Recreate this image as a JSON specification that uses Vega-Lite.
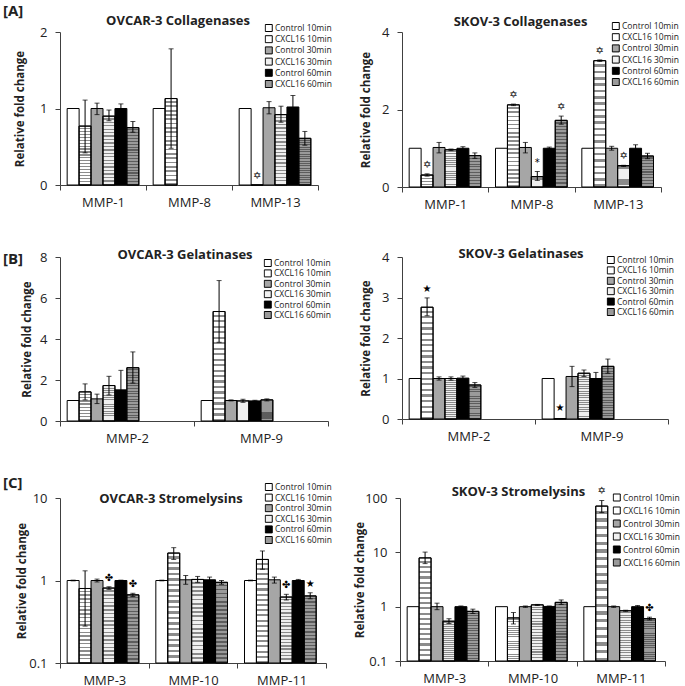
{
"$schema":"https://vega.github.io/schema/vega-lite/v6.json",
"padding":{"left":3,"top":4,"right":0,"bottom":0},
"background":"white",
"datasets":{
"A1":[
{"g":"MMP-1","s":"Control 10min","v":1},
{"g":"MMP-1","s":"CXCL16 10min","v":0.77,"lo":0.42,"hi":1.11},
{"g":"MMP-1","s":"Control 30min","v":1.0,"lo":0.92,"hi":1.07},
{"g":"MMP-1","s":"CXCL16 30min","v":0.9,"lo":0.84,"hi":0.98},
{"g":"MMP-1","s":"Control 60min","v":1.0,"lo":0.95,"hi":1.06},
{"g":"MMP-1","s":"CXCL16 60min","v":0.75,"lo":0.69,"hi":0.83},
{"g":"MMP-8","s":"Control 10min","v":1},
{"g":"MMP-8","s":"CXCL16 10min","v":1.13,"lo":0.48,"hi":1.78},
{"g":"MMP-13","s":"Control 10min","v":1},
{"g":"MMP-13","s":"CXCL16 10min","v":0,"sym":"✡","at":0},
{"g":"MMP-13","s":"Control 30min","v":1.01,"lo":0.93,"hi":1.09},
{"g":"MMP-13","s":"CXCL16 30min","v":0.92,"lo":0.82,"hi":1.03},
{"g":"MMP-13","s":"Control 60min","v":1.02,"lo":0.88,"hi":1.17},
{"g":"MMP-13","s":"CXCL16 60min","v":0.61,"lo":0.52,"hi":0.7}
],
"A2":[
{"g":"MMP-1","s":"Control 10min","v":1},
{"g":"MMP-1","s":"CXCL16 10min","v":0.31,"lo":0.28,"hi":0.34,"sym":"✡","at":0.34},
{"g":"MMP-1","s":"Control 30min","v":1.02,"lo":0.88,"hi":1.15},
{"g":"MMP-1","s":"CXCL16 30min","v":0.96,"lo":0.94,"hi":0.98},
{"g":"MMP-1","s":"Control 60min","v":1.0,"lo":0.97,"hi":1.04},
{"g":"MMP-1","s":"CXCL16 60min","v":0.81,"lo":0.74,"hi":0.88},
{"g":"MMP-8","s":"Control 10min","v":1},
{"g":"MMP-8","s":"CXCL16 10min","v":2.12,"lo":2.1,"hi":2.14,"sym":"✡","at":2.14},
{"g":"MMP-8","s":"Control 30min","v":1.02,"lo":0.88,"hi":1.15},
{"g":"MMP-8","s":"CXCL16 30min","v":0.27,"lo":0.17,"hi":0.4,"sym":"*","at":0.4},
{"g":"MMP-8","s":"Control 60min","v":1.0,"lo":0.98,"hi":1.03},
{"g":"MMP-8","s":"CXCL16 60min","v":1.72,"lo":1.62,"hi":1.83,"sym":"✡","at":1.83},
{"g":"MMP-13","s":"Control 10min","v":1},
{"g":"MMP-13","s":"CXCL16 10min","v":3.26,"lo":3.24,"hi":3.28,"sym":"✡","at":3.28},
{"g":"MMP-13","s":"Control 30min","v":1.0,"lo":0.95,"hi":1.05},
{"g":"MMP-13","s":"CXCL16 30min","v":0.55,"lo":0.53,"hi":0.56,"sym":"✡","at":0.56},
{"g":"MMP-13","s":"Control 60min","v":1.0,"lo":0.92,"hi":1.09},
{"g":"MMP-13","s":"CXCL16 60min","v":0.8,"lo":0.73,"hi":0.87}
],
"B1":[
{"g":"MMP-2","s":"Control 10min","v":1},
{"g":"MMP-2","s":"CXCL16 10min","v":1.42,"lo":1.03,"hi":1.81},
{"g":"MMP-2","s":"Control 30min","v":1.08,"lo":0.85,"hi":1.31},
{"g":"MMP-2","s":"CXCL16 30min","v":1.73,"lo":1.27,"hi":2.18},
{"g":"MMP-2","s":"Control 60min","v":1.52,"lo":0.57,"hi":2.47},
{"g":"MMP-2","s":"CXCL16 60min","v":2.6,"lo":1.85,"hi":3.37},
{"g":"MMP-9","s":"Control 10min","v":1},
{"g":"MMP-9","s":"CXCL16 10min","v":5.34,"lo":3.84,"hi":6.85},
{"g":"MMP-9","s":"Control 30min","v":1.0,"lo":0.98,"hi":1.03},
{"g":"MMP-9","s":"CXCL16 30min","v":0.98,"lo":0.91,"hi":1.06},
{"g":"MMP-9","s":"Control 60min","v":0.98,"lo":0.96,"hi":1.01},
{"g":"MMP-9","s":"CXCL16 60min","v":1.03,"lo":0.98,"hi":1.08}
],
"B2":[
{"g":"MMP-2","s":"Control 10min","v":1},
{"g":"MMP-2","s":"CXCL16 10min","v":2.76,"lo":2.55,"hi":2.99,"sym":"★","at":2.99},
{"g":"MMP-2","s":"Control 30min","v":1.0,"lo":0.96,"hi":1.04},
{"g":"MMP-2","s":"CXCL16 30min","v":1.0,"lo":0.96,"hi":1.04},
{"g":"MMP-2","s":"Control 60min","v":1.01,"lo":0.95,"hi":1.06},
{"g":"MMP-2","s":"CXCL16 60min","v":0.84,"lo":0.78,"hi":0.9},
{"g":"MMP-9","s":"Control 10min","v":1},
{"g":"MMP-9","s":"CXCL16 10min","v":0.01,"sym":"★","at":0.05},
{"g":"MMP-9","s":"Control 30min","v":1.05,"lo":0.8,"hi":1.3},
{"g":"MMP-9","s":"CXCL16 30min","v":1.13,"lo":1.05,"hi":1.21},
{"g":"MMP-9","s":"Control 60min","v":1.0,"lo":0.84,"hi":1.15},
{"g":"MMP-9","s":"CXCL16 60min","v":1.3,"lo":1.13,"hi":1.48}
],
"C1":[
{"g":"MMP-3","s":"Control 10min","v":1,"lo":0.99,"hi":1.01},
{"g":"MMP-3","s":"CXCL16 10min","v":0.8,"lo":0.28,"hi":1.31},
{"g":"MMP-3","s":"Control 30min","v":1.0,"lo":0.96,"hi":1.04},
{"g":"MMP-3","s":"CXCL16 30min","v":0.81,"lo":0.78,"hi":0.84,"sym":"✤","at":0.84},
{"g":"MMP-3","s":"Control 60min","v":1.0,"lo":0.99,"hi":1.01},
{"g":"MMP-3","s":"CXCL16 60min","v":0.67,"lo":0.64,"hi":0.7,"sym":"✤","at":0.7},
{"g":"MMP-10","s":"Control 10min","v":1,"lo":0.99,"hi":1.01},
{"g":"MMP-10","s":"CXCL16 10min","v":2.15,"lo":1.8,"hi":2.5},
{"g":"MMP-10","s":"Control 30min","v":1.02,"lo":0.9,"hi":1.15},
{"g":"MMP-10","s":"CXCL16 30min","v":1.03,"lo":0.95,"hi":1.12},
{"g":"MMP-10","s":"Control 60min","v":1.02,"lo":0.95,"hi":1.1},
{"g":"MMP-10","s":"CXCL16 60min","v":0.95,"lo":0.9,"hi":1.0},
{"g":"MMP-11","s":"Control 10min","v":1,"lo":0.99,"hi":1.01},
{"g":"MMP-11","s":"CXCL16 10min","v":1.8,"lo":1.37,"hi":2.28},
{"g":"MMP-11","s":"Control 30min","v":1.02,"lo":0.93,"hi":1.1},
{"g":"MMP-11","s":"CXCL16 30min","v":0.63,"lo":0.58,"hi":0.68,"sym":"✤","at":0.68},
{"g":"MMP-11","s":"Control 60min","v":1.0,"lo":0.97,"hi":1.03},
{"g":"MMP-11","s":"CXCL16 60min","v":0.65,"lo":0.6,"hi":0.71,"sym":"★","at":0.71}
],
"C2":[
{"g":"MMP-3","s":"Control 10min","v":1},
{"g":"MMP-3","s":"CXCL16 10min","v":7.9,"lo":6.2,"hi":10.1},
{"g":"MMP-3","s":"Control 30min","v":1.0,"lo":0.88,"hi":1.16},
{"g":"MMP-3","s":"CXCL16 30min","v":0.54,"lo":0.49,"hi":0.6},
{"g":"MMP-3","s":"Control 60min","v":1.0,"lo":0.97,"hi":1.03},
{"g":"MMP-3","s":"CXCL16 60min","v":0.82,"lo":0.75,"hi":0.9},
{"g":"MMP-10","s":"Control 10min","v":1},
{"g":"MMP-10","s":"CXCL16 10min","v":0.62,"lo":0.48,"hi":0.78},
{"g":"MMP-10","s":"Control 30min","v":1.0,"lo":0.97,"hi":1.03},
{"g":"MMP-10","s":"CXCL16 30min","v":1.08,"lo":1.05,"hi":1.1},
{"g":"MMP-10","s":"Control 60min","v":1.01,"lo":0.99,"hi":1.03},
{"g":"MMP-10","s":"CXCL16 60min","v":1.2,"lo":1.1,"hi":1.33},
{"g":"MMP-11","s":"Control 10min","v":1},
{"g":"MMP-11","s":"CXCL16 10min","v":71,"lo":54,"hi":90,"sym":"✡","at":90},
{"g":"MMP-11","s":"Control 30min","v":1.0,"lo":0.97,"hi":1.03},
{"g":"MMP-11","s":"CXCL16 30min","v":0.84,"lo":0.82,"hi":0.86},
{"g":"MMP-11","s":"Control 60min","v":1.0,"lo":0.96,"hi":1.05},
{"g":"MMP-11","s":"CXCL16 60min","v":0.6,"lo":0.57,"hi":0.64,"sym":"✤","at":0.64}
]
},
"spacing":37,
"vconcat":[
{
"title":{"text":"[A]","anchor":"start","frame":"group","dx":-57,"fontSize":15,"offset":-4.5},
"hconcat":[
{"width":258,"height":153,"data":{"name":"A1"},
"title":{"text":"OVCAR-3 Collagenases","dx":-11,"offset":-4},
"encoding":{
"x":{"field":"g","type":"nominal","scale":{"domain":["MMP-1","MMP-8","MMP-13"],"paddingInner":0,"paddingOuter":0},"axis":{"title":null}},
"xOffset":{"field":"s","type":"nominal","scale":{"domain":["Control 10min","CXCL16 10min","Control 30min","CXCL16 30min","Control 60min","CXCL16 60min"],"paddingInner":0,"paddingOuter":0.6}}},
"layer":[
{"mark":{"type":"bar","stroke":"black","strokeWidth":1},
"encoding":{"y":{"field":"v","type":"quantitative","scale":{"domain":[0,2],"nice":false},"axis":{"values":[0,1,2],"title":"Relative fold change","format":"~g","titleX":-35}},
"fill":{"field":"s","type":"nominal","scale":{"domain":["Control 10min","CXCL16 10min","Control 30min","CXCL16 30min","Control 60min","CXCL16 60min"],"range":["#ffffff","#ffffff","#a6a6a6","#f0f0f0","#000000","#9a9a9a"]},"legend":{"title":null,"orient":"none","legendX":204.5,"legendY":-8.5,"rowPadding":2.2}}}},
{"transform":[{"filter":{"field":"s","oneOf":["CXCL16 10min","CXCL16 30min","CXCL16 60min"]}}],
"mark":{"type":"bar","style":"stripes","stroke":"black","strokeWidth":1},
"encoding":{"y":{"field":"v","type":"quantitative"},"fillOpacity":{"field":"s","type":"nominal","scale":{"domain":["CXCL16 10min","CXCL16 30min","CXCL16 60min"],"range":[0.45,0.4,0.75]},"legend":null}}},
{"mark":{"type":"rule","color":"black","strokeWidth":1},"encoding":{"y":{"field":"lo","type":"quantitative"},"y2":{"field":"hi"}}},
{"mark":{"type":"tick","color":"black","size":5,"thickness":1},"encoding":{"y":{"field":"lo","type":"quantitative"}}},
{"mark":{"type":"tick","color":"black","size":5,"thickness":1},"encoding":{"y":{"field":"hi","type":"quantitative"}}},
{"mark":{"type":"text","font":"DejaVu Sans","fontSize":10,"dy":-9,"color":"black"},"encoding":{"y":{"field":"at","type":"quantitative"},"text":{"field":"sym"}}}
]},
{"width":259,"height":155,"data":{"name":"A2"},
"title":{"text":"SKOV-3 Collagenases","dx":-11,"offset":-7},
"encoding":{
"x":{"field":"g","type":"nominal","scale":{"domain":["MMP-1","MMP-8","MMP-13"],"paddingInner":0,"paddingOuter":0},"axis":{"title":null}},
"xOffset":{"field":"s","type":"nominal","scale":{"domain":["Control 10min","CXCL16 10min","Control 30min","CXCL16 30min","Control 60min","CXCL16 60min"],"paddingInner":0,"paddingOuter":0.72}}},
"layer":[
{"mark":{"type":"bar","stroke":"black","strokeWidth":1},
"encoding":{"y":{"field":"v","type":"quantitative","scale":{"domain":[0,4],"nice":false},"axis":{"values":[0,1,2,3,4],"title":"Relative fold change","format":"~g","titleX":-31}},
"fill":{"field":"s","type":"nominal","scale":{"domain":["Control 10min","CXCL16 10min","Control 30min","CXCL16 30min","Control 60min","CXCL16 60min"],"range":["#ffffff","#ffffff","#a6a6a6","#f0f0f0","#000000","#9a9a9a"]},"legend":{"title":null,"orient":"none","legendX":209.5,"legendY":-10.5,"rowPadding":2.2}}}},
{"transform":[{"filter":{"field":"s","oneOf":["CXCL16 10min","CXCL16 30min","CXCL16 60min"]}}],
"mark":{"type":"bar","style":"stripes","stroke":"black","strokeWidth":1},
"encoding":{"y":{"field":"v","type":"quantitative"},"fillOpacity":{"field":"s","type":"nominal","scale":{"domain":["CXCL16 10min","CXCL16 30min","CXCL16 60min"],"range":[0.45,0.4,0.75]},"legend":null}}},
{"mark":{"type":"rule","color":"black","strokeWidth":1},"encoding":{"y":{"field":"lo","type":"quantitative"},"y2":{"field":"hi"}}},
{"mark":{"type":"tick","color":"black","size":5,"thickness":1},"encoding":{"y":{"field":"lo","type":"quantitative"}}},
{"mark":{"type":"tick","color":"black","size":5,"thickness":1},"encoding":{"y":{"field":"hi","type":"quantitative"}}},
{"mark":{"type":"text","font":"DejaVu Sans","fontSize":10,"dy":-9,"color":"black"},"encoding":{"y":{"field":"at","type":"quantitative"},"text":{"field":"sym"}}}
]}
],
"spacing":84,"bounds":"flush",
"resolve":{"scale":{"fill":"independent","fillOpacity":"independent"},"legend":{"fill":"independent"}}
},
{
"spacing":31,
"vconcat":[
{
"title":{"text":"[B]","anchor":"start","frame":"group","dx":-57,"fontSize":15,"offset":-19},
"hconcat":[
{"width":268,"height":164,"data":{"name":"B1"},
"title":{"text":"OVCAR-3 Gelatinases","dx":-9,"offset":-11},
"encoding":{
"x":{"field":"g","type":"nominal","scale":{"domain":["MMP-2","MMP-9"],"paddingInner":0,"paddingOuter":0},"axis":{"title":null}},
"xOffset":{"field":"s","type":"nominal","scale":{"domain":["Control 10min","CXCL16 10min","Control 30min","CXCL16 30min","Control 60min","CXCL16 60min"],"paddingInner":0,"paddingOuter":0.8}}},
"layer":[
{"mark":{"type":"bar","stroke":"black","strokeWidth":1},
"encoding":{"y":{"field":"v","type":"quantitative","scale":{"domain":[0,8],"nice":false},"axis":{"values":[0,2,4,6,8],"title":"Relative fold change","format":"~g","titleX":-28}},
"fill":{"field":"s","type":"nominal","scale":{"domain":["Control 10min","CXCL16 10min","Control 30min","CXCL16 30min","Control 60min","CXCL16 60min"],"range":["#ffffff","#ffffff","#a6a6a6","#f0f0f0","#000000","#9a9a9a"]},"legend":{"title":null,"orient":"none","legendX":203.5,"legendY":1.5,"rowPadding":1.4}}}},
{"transform":[{"filter":{"field":"s","oneOf":["CXCL16 10min","CXCL16 30min","CXCL16 60min"]}}],
"mark":{"type":"bar","style":"stripes","stroke":"black","strokeWidth":1},
"encoding":{"y":{"field":"v","type":"quantitative"},"fillOpacity":{"field":"s","type":"nominal","scale":{"domain":["CXCL16 10min","CXCL16 30min","CXCL16 60min"],"range":[0.45,0.4,0.75]},"legend":null}}},
{"mark":{"type":"rule","color":"black","strokeWidth":1},"encoding":{"y":{"field":"lo","type":"quantitative"},"y2":{"field":"hi"}}},
{"mark":{"type":"tick","color":"black","size":5,"thickness":1},"encoding":{"y":{"field":"lo","type":"quantitative"}}},
{"mark":{"type":"tick","color":"black","size":5,"thickness":1},"encoding":{"y":{"field":"hi","type":"quantitative"}}},
{"mark":{"type":"text","font":"DejaVu Sans","fontSize":10,"dy":-9,"color":"black"},"encoding":{"y":{"field":"at","type":"quantitative"},"text":{"field":"sym"}}}
]},
{"width":266,"height":162,"data":{"name":"B2"},
"title":{"text":"SKOV-3 Gelatinases","dx":-14,"offset":-10},
"encoding":{
"x":{"field":"g","type":"nominal","scale":{"domain":["MMP-2","MMP-9"],"paddingInner":0,"paddingOuter":0},"axis":{"title":null}},
"xOffset":{"field":"s","type":"nominal","scale":{"domain":["Control 10min","CXCL16 10min","Control 30min","CXCL16 30min","Control 60min","CXCL16 60min"],"paddingInner":0,"paddingOuter":0.75}}},
"layer":[
{"mark":{"type":"bar","stroke":"black","strokeWidth":1},
"encoding":{"y":{"field":"v","type":"quantitative","scale":{"domain":[0,4],"nice":false},"axis":{"values":[0,1,2,3,4],"title":"Relative fold change","format":"~g","titleX":-31}},
"fill":{"field":"s","type":"nominal","scale":{"domain":["Control 10min","CXCL16 10min","Control 30min","CXCL16 30min","Control 60min","CXCL16 60min"],"range":["#ffffff","#ffffff","#a6a6a6","#f0f0f0","#000000","#9a9a9a"]},"legend":{"title":null,"orient":"none","legendX":204.5,"legendY":-1.5,"rowPadding":1.4}}}},
{"transform":[{"filter":{"field":"s","oneOf":["CXCL16 10min","CXCL16 30min","CXCL16 60min"]}}],
"mark":{"type":"bar","style":"stripes","stroke":"black","strokeWidth":1},
"encoding":{"y":{"field":"v","type":"quantitative"},"fillOpacity":{"field":"s","type":"nominal","scale":{"domain":["CXCL16 10min","CXCL16 30min","CXCL16 60min"],"range":[0.45,0.4,0.75]},"legend":null}}},
{"mark":{"type":"rule","color":"black","strokeWidth":1},"encoding":{"y":{"field":"lo","type":"quantitative"},"y2":{"field":"hi"}}},
{"mark":{"type":"tick","color":"black","size":5,"thickness":1},"encoding":{"y":{"field":"lo","type":"quantitative"}}},
{"mark":{"type":"tick","color":"black","size":5,"thickness":1},"encoding":{"y":{"field":"hi","type":"quantitative"}}},
{"mark":{"type":"text","font":"DejaVu Sans","fontSize":10,"dy":-9,"color":"black"},"encoding":{"y":{"field":"at","type":"quantitative"},"text":{"field":"sym"}}}
]}
],
"spacing":74,"bounds":"flush",
"resolve":{"scale":{"fill":"independent","fillOpacity":"independent"},"legend":{"fill":"independent"}}
},
{
"title":{"text":"[C]","anchor":"start","frame":"group","dx":-57,"fontSize":15,"offset":-8.5},
"hconcat":[
{"width":266,"height":165,"data":{"name":"C1"},
"title":{"text":"OVCAR-3 Stromelysins","dx":-22,"offset":-23.5},
"encoding":{
"x":{"field":"g","type":"nominal","scale":{"domain":["MMP-3","MMP-10","MMP-11"],"paddingInner":0,"paddingOuter":0},"axis":{"title":null}},
"xOffset":{"field":"s","type":"nominal","scale":{"domain":["Control 10min","CXCL16 10min","Control 30min","CXCL16 30min","Control 60min","CXCL16 60min"],"paddingInner":0,"paddingOuter":0.7}}},
"layer":[
{"mark":{"type":"bar","stroke":"black","strokeWidth":1},
"encoding":{"y":{"field":"v","type":"quantitative","scale":{"type":"log","domain":[0.1,10],"nice":false},"axis":{"values":[0.1,1,10],"title":"Relative fold change","format":"~g","titleX":-33}},"y2":{"datum":0.1},
"fill":{"field":"s","type":"nominal","scale":{"domain":["Control 10min","CXCL16 10min","Control 30min","CXCL16 30min","Control 60min","CXCL16 60min"],"range":["#ffffff","#ffffff","#a6a6a6","#f0f0f0","#000000","#9a9a9a"]},"legend":{"title":null,"orient":"none","legendX":204.5,"legendY":-15.5,"rowPadding":1.6}}}},
{"transform":[{"filter":{"field":"s","oneOf":["CXCL16 10min","CXCL16 30min","CXCL16 60min"]}}],
"mark":{"type":"bar","style":"stripes","stroke":"black","strokeWidth":1},
"encoding":{"y":{"field":"v","type":"quantitative"},"y2":{"datum":0.1},"fillOpacity":{"field":"s","type":"nominal","scale":{"domain":["CXCL16 10min","CXCL16 30min","CXCL16 60min"],"range":[0.45,0.4,0.75]},"legend":null}}},
{"mark":{"type":"rule","color":"black","strokeWidth":1},"encoding":{"y":{"field":"lo","type":"quantitative"},"y2":{"field":"hi"}}},
{"mark":{"type":"tick","color":"black","size":5,"thickness":1},"encoding":{"y":{"field":"lo","type":"quantitative"}}},
{"mark":{"type":"tick","color":"black","size":5,"thickness":1},"encoding":{"y":{"field":"hi","type":"quantitative"}}},
{"mark":{"type":"text","font":"DejaVu Sans","fontSize":10,"dy":-9,"color":"black"},"encoding":{"y":{"field":"at","type":"quantitative"},"text":{"field":"sym"}}}
]},
{"width":265,"height":163,"data":{"name":"C2"},
"title":{"text":"SKOV-3 Stromelysins","dx":-14,"offset":-13},
"encoding":{
"x":{"field":"g","type":"nominal","scale":{"domain":["MMP-3","MMP-10","MMP-11"],"paddingInner":0,"paddingOuter":0},"axis":{"title":null}},
"xOffset":{"field":"s","type":"nominal","scale":{"domain":["Control 10min","CXCL16 10min","Control 30min","CXCL16 30min","Control 60min","CXCL16 60min"],"paddingInner":0,"paddingOuter":0.67}}},
"layer":[
{"mark":{"type":"bar","stroke":"black","strokeWidth":1},
"encoding":{"y":{"field":"v","type":"quantitative","scale":{"type":"log","domain":[0.1,100],"nice":false},"axis":{"values":[0.1,1,10,100],"title":"Relative fold change","format":"~g","titleX":-35}},"y2":{"datum":0.1},
"fill":{"field":"s","type":"nominal","scale":{"domain":["Control 10min","CXCL16 10min","Control 30min","CXCL16 30min","Control 60min","CXCL16 60min"],"range":["#ffffff","#ffffff","#a6a6a6","#f0f0f0","#000000","#9a9a9a"]},"legend":{"title":null,"orient":"none","legendX":212.5,"legendY":-5,"rowPadding":4}}}},
{"transform":[{"filter":{"field":"s","oneOf":["CXCL16 10min","CXCL16 30min","CXCL16 60min"]}}],
"mark":{"type":"bar","style":"stripes","stroke":"black","strokeWidth":1},
"encoding":{"y":{"field":"v","type":"quantitative"},"y2":{"datum":0.1},"fillOpacity":{"field":"s","type":"nominal","scale":{"domain":["CXCL16 10min","CXCL16 30min","CXCL16 60min"],"range":[0.45,0.4,0.75]},"legend":null}}},
{"mark":{"type":"rule","color":"black","strokeWidth":1},"encoding":{"y":{"field":"lo","type":"quantitative"},"y2":{"field":"hi"}}},
{"mark":{"type":"tick","color":"black","size":5,"thickness":1},"encoding":{"y":{"field":"lo","type":"quantitative"}}},
{"mark":{"type":"tick","color":"black","size":5,"thickness":1},"encoding":{"y":{"field":"hi","type":"quantitative"}}},
{"mark":{"type":"text","font":"DejaVu Sans","fontSize":10,"dy":-9,"color":"black"},"encoding":{"y":{"field":"at","type":"quantitative"},"text":{"field":"sym"}}}
]}
],
"spacing":74,"bounds":"flush",
"resolve":{"scale":{"fill":"independent","fillOpacity":"independent"},"legend":{"fill":"independent"}}
}
],
"resolve":{"scale":{"fill":"independent","fillOpacity":"independent"},"legend":{"fill":"independent"}}
}
],
"resolve":{"scale":{"fill":"independent","fillOpacity":"independent"},"legend":{"fill":"independent"}},
"config":{
"font":"Open Sans",
"view":{"stroke":null},
"axis":{"domainColor":"#404040","tickColor":"#404040","labelColor":"#222222","labelFont":"Open Sans","labelFontSize":13,"titleFont":"Open Sans","titleFontSize":11.5,"titleFontWeight":"bold","titleColor":"#222222","grid":false,"tickSize":5,"labelPadding":8},
"axisX":{"tickBand":"extent","labelAngle":0,"labelPadding":6},
"axisY":{"titlePadding":7},
"title":{"font":"Open Sans","fontSize":13,"fontWeight":"bold","color":"#222222"},
"legend":{"symbolType":"square","symbolSize":49,"symbolStrokeColor":"black","symbolStrokeWidth":1,"labelFont":"Open Sans","labelFontSize":8.5,"labelColor":"#222222","clipHeight":9,"padding":0,"labelOffset":2},
"style":{"stripes":{"color":{"gradient":"linear","x1":0,"y1":0,"x2":0,"y2":1,"stops":[
{"offset":0,"color":"rgba(0,0,0,0)"},{"offset":0.03,"color":"rgba(0,0,0,0)"},{"offset":0.03,"color":"#000"},{"offset":0.05,"color":"#000"},
{"offset":0.05,"color":"rgba(0,0,0,0)"},{"offset":0.08,"color":"rgba(0,0,0,0)"},{"offset":0.08,"color":"#000"},{"offset":0.1,"color":"#000"},
{"offset":0.1,"color":"rgba(0,0,0,0)"},{"offset":0.13,"color":"rgba(0,0,0,0)"},{"offset":0.13,"color":"#000"},{"offset":0.15,"color":"#000"},
{"offset":0.15,"color":"rgba(0,0,0,0)"},{"offset":0.18,"color":"rgba(0,0,0,0)"},{"offset":0.18,"color":"#000"},{"offset":0.2,"color":"#000"},
{"offset":0.2,"color":"rgba(0,0,0,0)"},{"offset":0.23,"color":"rgba(0,0,0,0)"},{"offset":0.23,"color":"#000"},{"offset":0.25,"color":"#000"},
{"offset":0.25,"color":"rgba(0,0,0,0)"},{"offset":0.28,"color":"rgba(0,0,0,0)"},{"offset":0.28,"color":"#000"},{"offset":0.3,"color":"#000"},
{"offset":0.3,"color":"rgba(0,0,0,0)"},{"offset":0.33,"color":"rgba(0,0,0,0)"},{"offset":0.33,"color":"#000"},{"offset":0.35,"color":"#000"},
{"offset":0.35,"color":"rgba(0,0,0,0)"},{"offset":0.38,"color":"rgba(0,0,0,0)"},{"offset":0.38,"color":"#000"},{"offset":0.4,"color":"#000"},
{"offset":0.4,"color":"rgba(0,0,0,0)"},{"offset":0.43,"color":"rgba(0,0,0,0)"},{"offset":0.43,"color":"#000"},{"offset":0.45,"color":"#000"},
{"offset":0.45,"color":"rgba(0,0,0,0)"},{"offset":0.48,"color":"rgba(0,0,0,0)"},{"offset":0.48,"color":"#000"},{"offset":0.5,"color":"#000"},
{"offset":0.5,"color":"rgba(0,0,0,0)"},{"offset":0.53,"color":"rgba(0,0,0,0)"},{"offset":0.53,"color":"#000"},{"offset":0.55,"color":"#000"},
{"offset":0.55,"color":"rgba(0,0,0,0)"},{"offset":0.58,"color":"rgba(0,0,0,0)"},{"offset":0.58,"color":"#000"},{"offset":0.6,"color":"#000"},
{"offset":0.6,"color":"rgba(0,0,0,0)"},{"offset":0.63,"color":"rgba(0,0,0,0)"},{"offset":0.63,"color":"#000"},{"offset":0.65,"color":"#000"},
{"offset":0.65,"color":"rgba(0,0,0,0)"},{"offset":0.68,"color":"rgba(0,0,0,0)"},{"offset":0.68,"color":"#000"},{"offset":0.7,"color":"#000"},
{"offset":0.7,"color":"rgba(0,0,0,0)"},{"offset":0.73,"color":"rgba(0,0,0,0)"},{"offset":0.73,"color":"#000"},{"offset":0.75,"color":"#000"},
{"offset":0.75,"color":"rgba(0,0,0,0)"},{"offset":0.78,"color":"rgba(0,0,0,0)"},{"offset":0.78,"color":"#000"},{"offset":0.8,"color":"#000"},
{"offset":0.8,"color":"rgba(0,0,0,0)"},{"offset":0.83,"color":"rgba(0,0,0,0)"},{"offset":0.83,"color":"#000"},{"offset":0.85,"color":"#000"},
{"offset":0.85,"color":"rgba(0,0,0,0)"},{"offset":0.88,"color":"rgba(0,0,0,0)"},{"offset":0.88,"color":"#000"},{"offset":0.9,"color":"#000"},
{"offset":0.9,"color":"rgba(0,0,0,0)"},{"offset":0.93,"color":"rgba(0,0,0,0)"},{"offset":0.93,"color":"#000"},{"offset":0.95,"color":"#000"},
{"offset":0.95,"color":"rgba(0,0,0,0)"},{"offset":0.98,"color":"rgba(0,0,0,0)"},{"offset":0.98,"color":"#000"},{"offset":1,"color":"#000"}
]}}}
}
}
